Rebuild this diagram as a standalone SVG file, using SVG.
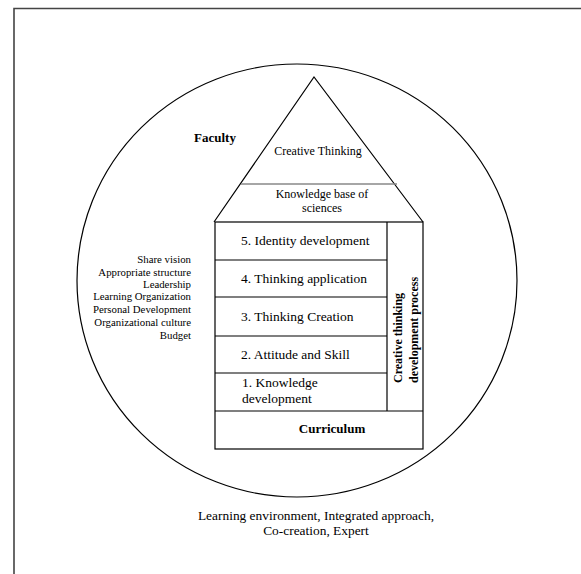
<svg xmlns="http://www.w3.org/2000/svg" width="581" height="574" viewBox="0 0 581 574">
<style>
.ln{fill:none;stroke:#000;stroke-width:1.2}
.t{font-family:"Liberation Serif","Times New Roman",serif;fill:#000}
.r{font-size:13.5px}
.v{font-size:12px}
.s{font-size:10.8px;text-anchor:end}
.b{font-weight:bold}
.c{text-anchor:middle}
</style>
<rect width="581" height="574" fill="#fff"/>
<g id="frame"><path d="M14 574 V8.5 H581" fill="none" stroke="#444" stroke-width="1.6"/></g>
<g id="circle"><ellipse cx="297" cy="280.5" rx="220" ry="216.5" class="ln"/></g>
<g id="roof">
<path d="M214 222 L314 77 L423 222" class="ln"/>
<line x1="241" y1="184" x2="397" y2="184" stroke="#888" stroke-width="1.5"/>
<text class="t c" x="318" y="155" font-size="12">Creative Thinking</text>
<text class="t c" x="322" y="198" font-size="12">Knowledge base of</text>
<text class="t c" x="322" y="212" font-size="12">sciences</text>
</g>
<g id="faculty"><text class="t b" x="194" y="142" font-size="13">Faculty</text></g>
<g id="steps">
<rect x="215" y="222" width="208" height="227" class="ln"/>
<line x1="387" y1="222" x2="387" y2="411" class="ln"/>
<line x1="215" y1="260" x2="387" y2="260" class="ln"/>
<line x1="215" y1="297" x2="387" y2="297" class="ln"/>
<line x1="215" y1="336" x2="387" y2="336" class="ln"/>
<line x1="215" y1="373" x2="387" y2="373" class="ln"/>
<line x1="215" y1="411" x2="423" y2="411" class="ln"/>
<text class="t r" x="241" y="245">5. Identity development</text>
<text class="t r" x="241" y="283">4. Thinking application</text>
<text class="t r" x="241" y="321">3. Thinking Creation</text>
<text class="t r" x="241" y="359">2. Attitude and Skill</text>
<text class="t r" x="242" y="387">1. Knowledge</text>
<text class="t r" x="242" y="403">development</text>
<text class="t v b" transform="translate(402 383) rotate(-90)">Creative thinking</text>
<text class="t v b" transform="translate(418 383) rotate(-90)">development process</text>
<text class="t b c" x="332" y="433" font-size="13">Curriculum</text>
</g>
<g id="factors">
<text class="t s" x="191" y="263">Share vision</text>
<text class="t s" x="191" y="276">Appropriate structure</text>
<text class="t s" x="191" y="288">Leadership</text>
<text class="t s" x="191" y="300">Learning Organization</text>
<text class="t s" x="191" y="313">Personal Development</text>
<text class="t s" x="191" y="326">Organizational culture</text>
<text class="t s" x="191" y="339">Budget</text>
</g>
<g id="environment">
<text class="t c" x="316" y="520" font-size="13.4">Learning environment, Integrated approach,</text>
<text class="t c" x="316" y="535" font-size="13.4">Co-creation, Expert</text>
</g>
</svg>
